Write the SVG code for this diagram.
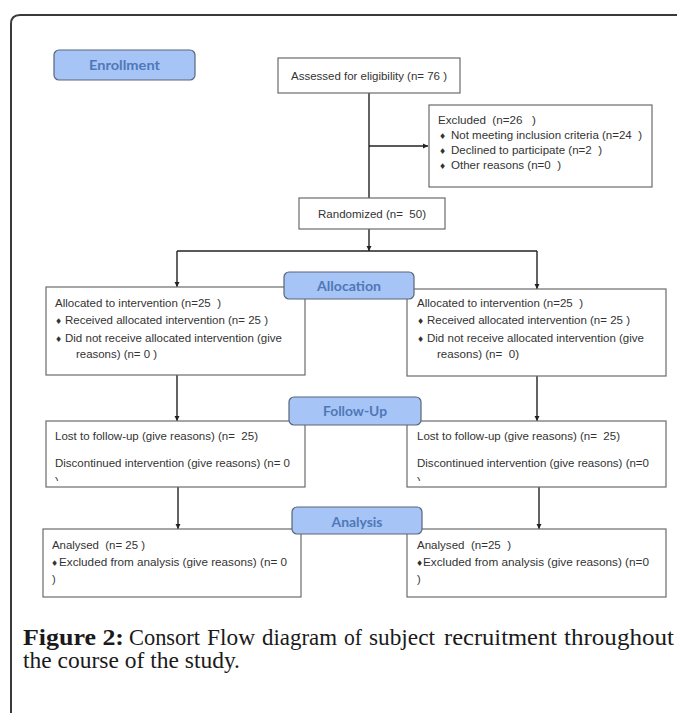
<svg xmlns="http://www.w3.org/2000/svg" width="677" height="713" viewBox="0 0 677 713" xml:space="preserve">
<style>
.frame{fill:none;stroke:#3a3a3a;stroke-width:2}
.box{fill:#fff;stroke:#6b6b6b;stroke-width:1.2}
.lbl{fill:#a6c4f6;stroke:#58667a;stroke-width:1.2}
.lt{font-family:Lato,"Open Sans",sans-serif;font-weight:bold;font-size:14px;fill:#4f78b6;text-anchor:middle}
.t{font-family:"Liberation Sans",Arial,sans-serif;font-size:11px;fill:#333;white-space:pre}
.b{font-family:"DejaVu Sans",sans-serif;font-size:8px;fill:#333}
.c{stroke:#222;stroke-width:1.4;fill:none}
.cap{font-family:"Liberation Serif","DejaVu Serif",serif;font-size:23px;fill:#1a1a1a}
</style>
<defs>
<marker id="ah" viewBox="0 0 10 10" refX="10" refY="5" markerWidth="5" markerHeight="6" orient="auto" markerUnits="userSpaceOnUse">
<path d="M0,0 L10,5 L0,10 Z" fill="#222"/>
</marker>
<clipPath id="cl1"><rect x="46" y="421" width="259" height="60"/></clipPath>
<clipPath id="cl2"><rect x="407" y="421" width="259" height="60"/></clipPath>
</defs>
<rect width="677" height="713" fill="#fff"/>
<path class="frame" d="M11,713 L11,24 Q11,15 20,15 L677,15"/>

<g id="connectors">
<line class="c" x1="369" y1="93" x2="369" y2="198"/>
<line class="c" x1="369" y1="146" x2="428" y2="146" marker-end="url(#ah)"/>
<line class="c" x1="369" y1="229" x2="369" y2="251" marker-end="url(#ah)"/>
<line class="c" x1="177" y1="251" x2="537" y2="251"/>
<line class="c" x1="177" y1="251" x2="177" y2="287" marker-end="url(#ah)"/>
<line class="c" x1="537" y1="251" x2="537" y2="289" marker-end="url(#ah)"/>
<line class="c" x1="177" y1="375" x2="177" y2="421" marker-end="url(#ah)"/>
<line class="c" x1="537" y1="376" x2="537" y2="421" marker-end="url(#ah)"/>
<line class="c" x1="178" y1="487" x2="178" y2="529" marker-end="url(#ah)"/>
<line class="c" x1="539" y1="487" x2="539" y2="529" marker-end="url(#ah)"/>
</g>

<g id="assessed">
<rect class="box" x="278" y="58" width="182" height="35"/>
<text class="t" x="291" y="80" textLength="156" lengthAdjust="spacingAndGlyphs">Assessed for eligibility (n= 76 )</text>
</g>

<g id="excluded">
<rect class="box" x="429" y="105" width="223" height="82"/>
<text class="t" x="438" y="124" textLength="98" lengthAdjust="spacingAndGlyphs">Excluded  (n=26   )</text>
<text class="b" x="439" y="139">♦</text>
<text class="t" x="451" y="139" textLength="191" lengthAdjust="spacingAndGlyphs">Not meeting inclusion criteria (n=24  )</text>
<text class="b" x="439" y="154">♦</text>
<text class="t" x="451" y="154" textLength="151" lengthAdjust="spacingAndGlyphs">Declined to participate (n=2  )</text>
<text class="b" x="439" y="169">♦</text>
<text class="t" x="451" y="169" textLength="110" lengthAdjust="spacingAndGlyphs">Other reasons (n=0  )</text>
</g>

<g id="randomized">
<rect class="box" x="299" y="198" width="146" height="31"/>
<text class="t" x="318" y="218" textLength="108" lengthAdjust="spacingAndGlyphs">Randomized (n=  50)</text>
</g>

<g id="alloc-left">
<rect class="box" x="46" y="287" width="259" height="88"/>
<text class="t" x="55" y="307" textLength="166" lengthAdjust="spacingAndGlyphs">Allocated to intervention (n=25  )</text>
<text class="b" x="55" y="324">♦</text>
<text class="t" x="65" y="324" textLength="203" lengthAdjust="spacingAndGlyphs">Received allocated intervention (n= 25 )</text>
<text class="b" x="55" y="342">♦</text>
<text class="t" x="65" y="342" textLength="217" lengthAdjust="spacingAndGlyphs">Did not receive allocated intervention (give</text>
<text class="t" x="76" y="358" textLength="81" lengthAdjust="spacingAndGlyphs">reasons) (n= 0 )</text>
</g>

<g id="alloc-right">
<rect class="box" x="407" y="289" width="259" height="87"/>
<text class="t" x="417" y="307" textLength="166" lengthAdjust="spacingAndGlyphs">Allocated to intervention (n=25  )</text>
<text class="b" x="417" y="324">♦</text>
<text class="t" x="427" y="324" textLength="203" lengthAdjust="spacingAndGlyphs">Received allocated intervention (n= 25 )</text>
<text class="b" x="417" y="342">♦</text>
<text class="t" x="427" y="342" textLength="217" lengthAdjust="spacingAndGlyphs">Did not receive allocated intervention (give</text>
<text class="t" x="437" y="358" textLength="82" lengthAdjust="spacingAndGlyphs">reasons) (n=  0)</text>
</g>

<g id="followup-left">
<rect class="box" x="46" y="421" width="259" height="66"/>
<text class="t" x="55" y="440" textLength="203" lengthAdjust="spacingAndGlyphs">Lost to follow-up (give reasons) (n=  25)</text>
<text class="t" x="55" y="467" textLength="235" lengthAdjust="spacingAndGlyphs">Discontinued intervention (give reasons) (n= 0</text>
<text class="t" x="55" y="485" clip-path="url(#cl1)">)</text>
</g>

<g id="followup-right">
<rect class="box" x="407" y="421" width="259" height="66"/>
<text class="t" x="417" y="440" textLength="203" lengthAdjust="spacingAndGlyphs">Lost to follow-up (give reasons) (n=  25)</text>
<text class="t" x="417" y="467" textLength="232" lengthAdjust="spacingAndGlyphs">Discontinued intervention (give reasons) (n=0</text>
<text class="t" x="417" y="485" clip-path="url(#cl2)">)</text>
</g>

<g id="analysis-left">
<rect class="box" x="43" y="529" width="258" height="68"/>
<text class="t" x="52" y="549" textLength="93" lengthAdjust="spacingAndGlyphs">Analysed  (n= 25 )</text>
<text class="b" x="51" y="566">♦</text>
<text class="t" x="59" y="566" textLength="228" lengthAdjust="spacingAndGlyphs">Excluded from analysis (give reasons) (n= 0</text>
<text class="t" x="52" y="583">)</text>
</g>

<g id="analysis-right">
<rect class="box" x="407" y="529" width="259" height="68"/>
<text class="t" x="417" y="549" textLength="94" lengthAdjust="spacingAndGlyphs">Analysed  (n=25  )</text>
<text class="b" x="416" y="566">♦</text>
<text class="t" x="423" y="566" textLength="226" lengthAdjust="spacingAndGlyphs">Excluded from analysis (give reasons) (n=0</text>
<text class="t" x="417" y="583">)</text>
</g>

<g id="enrollment">
<rect class="lbl" x="54" y="50" width="141" height="30" rx="5"/>
<text class="lt" x="124.5" y="70" textLength="71" lengthAdjust="spacingAndGlyphs">Enrollment</text>
</g>
<g id="allocation">
<rect class="lbl" x="284" y="272" width="130" height="27" rx="5"/>
<text class="lt" x="349" y="291" textLength="64" lengthAdjust="spacingAndGlyphs">Allocation</text>
</g>
<g id="follow-up">
<rect class="lbl" x="289" y="397" width="132" height="28" rx="5"/>
<text class="lt" x="355" y="416" textLength="64" lengthAdjust="spacingAndGlyphs">Follow-Up</text>
</g>
<g id="analysis">
<rect class="lbl" x="292" y="507" width="130" height="27" rx="5"/>
<text class="lt" x="357" y="527" textLength="51" lengthAdjust="spacingAndGlyphs">Analysis</text>
</g>

<g id="caption">
<text class="cap" y="645"><tspan x="23" font-weight="bold" textLength="101" lengthAdjust="spacingAndGlyphs">Figure 2:</tspan><tspan x="129" textLength="71" lengthAdjust="spacingAndGlyphs">Consort</tspan><tspan x="207" textLength="48" lengthAdjust="spacingAndGlyphs">Flow</tspan><tspan x="262" textLength="75" lengthAdjust="spacingAndGlyphs">diagram</tspan><tspan x="344" textLength="18" lengthAdjust="spacingAndGlyphs">of</tspan><tspan x="369" textLength="66" lengthAdjust="spacingAndGlyphs">subject</tspan><tspan x="444" textLength="113" lengthAdjust="spacingAndGlyphs">recruitment</tspan><tspan x="564" textLength="110" lengthAdjust="spacingAndGlyphs">throughout</tspan></text>
<text class="cap" x="23" y="668" textLength="217" lengthAdjust="spacingAndGlyphs">the course of the study.</text>
</g>
</svg>
